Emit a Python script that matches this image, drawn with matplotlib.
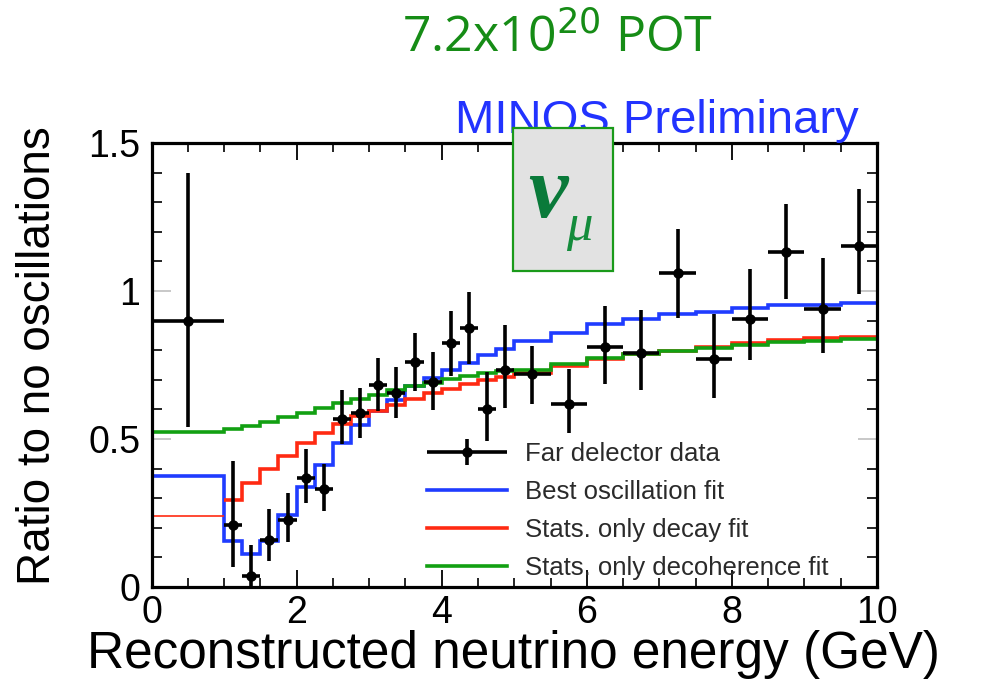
import numpy as np
import matplotlib
matplotlib.use("Agg")
import matplotlib.pyplot as plt
from matplotlib.patches import Rectangle
from matplotlib.ticker import MultipleLocator
from matplotlib.legend_handler import HandlerErrorbar

# Energy binning (GeV): one 1 GeV bin, 0.25 GeV bins up to 5 GeV, 0.5 GeV bins up to 10 GeV
bin_edges = [0.0, 1.0, 1.25, 1.5, 1.75, 2.0, 2.25, 2.5, 2.75, 3.0, 3.25, 3.5, 3.75,
             4.0, 4.25, 4.5, 4.75, 5.0, 5.5, 6.0, 6.5, 7.0, 7.5, 8.0, 8.5, 9.0, 9.5, 10.0]

# Far detector data / no-oscillation prediction
data_ratio = [0.90, 0.209, 0.037, 0.158, 0.226, 0.367, 0.330, 0.567, 0.588, 0.681,
              0.655, 0.759, 0.693, 0.823, 0.874, 0.601, 0.732, 0.718, 0.618, 0.810,
              0.789, 1.062, 0.771, 0.907, 1.133, 0.938, 1.153]
data_err_up = [0.50, 0.218, 0.104, 0.104, 0.093, 0.099, 0.085, 0.100, 0.084, 0.091,
               0.089, 0.098, 0.102, 0.111, 0.124, 0.126, 0.152, 0.096, 0.119, 0.139,
               0.147, 0.147, 0.150, 0.169, 0.160, 0.172, 0.191]
data_err_dn = [0.36, 0.141, 0.037, 0.070, 0.073, 0.082, 0.072, 0.083, 0.083, 0.085,
               0.085, 0.098, 0.096, 0.111, 0.120, 0.109, 0.127, 0.100, 0.098, 0.123,
               0.125, 0.152, 0.132, 0.141, 0.161, 0.149, 0.164]

# Fit predictions per bin
best_osc_fit = [0.375, 0.156, 0.113, 0.156, 0.243, 0.339, 0.412, 0.486, 0.548, 0.593,
                0.633, 0.678, 0.706, 0.733, 0.756, 0.784, 0.804, 0.831, 0.859, 0.887,
                0.906, 0.921, 0.930, 0.944, 0.952, 0.953, 0.958]
decay_fit = [0.240, 0.294, 0.350, 0.398, 0.443, 0.486, 0.520, 0.552, 0.576, 0.596,
             0.616, 0.636, 0.654, 0.670, 0.685, 0.698, 0.710, 0.724, 0.748, 0.770,
             0.787, 0.798, 0.812, 0.823, 0.834, 0.840, 0.846]
decoherence_fit = [0.525, 0.533, 0.545, 0.559, 0.573, 0.588, 0.605, 0.622, 0.635, 0.650,
                   0.664, 0.678, 0.689, 0.701, 0.712, 0.722, 0.729, 0.734, 0.754, 0.772,
                   0.786, 0.796, 0.806, 0.816, 0.826, 0.832, 0.838]

legend_labels = ["Far delector data", "Best oscillation fit",
                 "Stats. only decay fit", "Stats. only decoherence fit"]

edges = np.array(bin_edges)
centers = 0.5 * (edges[:-1] + edges[1:])
half_w = 0.5 * np.diff(edges)

plt.rcParams["font.family"] = ["Liberation Sans", "DejaVu Sans"]

fig = plt.figure(figsize=(9.87, 6.80), dpi=100)
ax = fig.add_axes([0.1535, 0.1368, 0.7351, 0.6529])

blue = "#1f3cff"
red = "#ff2a12"
green = "#12a012"

h_blue = ax.stairs(best_osc_fit, edges, baseline=None, color=blue, lw=2.6, zorder=2)
ax.stairs(decay_fit[:1], edges[:2], baseline=None, color=red, lw=1.2, zorder=2)
h_red = ax.stairs(decay_fit[1:], edges[1:], baseline=None, color=red, lw=2.6, zorder=2)
h_green = ax.stairs(decoherence_fit, edges, baseline=None, color=green, lw=2.6, zorder=2)

h_data = ax.errorbar(centers, data_ratio, xerr=half_w,
                     yerr=[data_err_dn, data_err_up], fmt="o", color="black",
                     ms=6.5, elinewidth=2.6, capsize=0, zorder=4)

ax.set_xlim(0, 10)
ax.set_ylim(0, 1.5)
ax.xaxis.set_minor_locator(MultipleLocator(0.5))
ax.yaxis.set_minor_locator(MultipleLocator(0.1))
ax.set_xticks([0, 2, 4, 6, 8, 10], ["0", "2", "4", "6", "8", "10"])
ax.set_yticks([0, 0.5, 1.0, 1.5], ["0", "0.5", "1", "1.5"])

ax.tick_params(which="both", direction="in", top=True, right=True, labelsize=27)
ax.tick_params(axis="x", which="major", length=12, width=1.3, pad=6)
ax.tick_params(axis="x", which="minor", length=6.5, width=1.2)
ax.tick_params(axis="y", which="major", length=14, width=1.3, color="#c4c4c4", pad=8)
ax.tick_params(axis="y", which="minor", length=7, width=1.2)
for s in ax.spines.values():
    s.set_linewidth(2.3)

fig.text(38 / 987, 1 - 356 / 680, "Ratio to no oscillations", rotation=90,
         ha="center", va="center", fontsize=33)
fig.text(513 / 987, 1 - 668 / 680, "Reconstructed neutrino energy (GeV)",
         ha="center", va="baseline", fontsize=37)

fig.text(455 / 987, 1 - 133 / 680, "MINOS Preliminary", color="#2233ff",
         fontsize=34, ha="left", va="baseline")
fig.text(402 / 987, 1 - 52 / 680, r"7.2x10$^{20}$ POT", color="#168c16",
         fontsize=36, ha="left", va="baseline", family=["Open Sans", "DejaVu Sans"])

# Neutrino flavour label box
fig.add_artist(Rectangle((513 / 987, 1 - 271 / 680), 100 / 987, 143 / 680,
                         transform=fig.transFigure, facecolor="#e2e2e2",
                         edgecolor="#1a9a1a", lw=1.6, zorder=5))
fig.text(528 / 987, 1 - 217 / 680, "\u03bd", color="#0a7a3a", fontsize=64,
         fontweight="bold", fontstyle="italic", family=["Liberation Serif"],
         ha="left", va="baseline", zorder=6)
fig.text(566 / 987, 1 - 240 / 680, "\u03bc", color="#148c3c", fontsize=38,
         fontstyle="italic", family=["Liberation Serif"],
         ha="left", va="baseline", zorder=6)

leg_fs = 18.5
leg_len = 3.1
leg = ax.legend([h_data, h_blue, h_red, h_green], legend_labels,
                loc="upper left", bbox_to_anchor=(427 / 987, 1 - 442 / 680),
                bbox_transform=fig.transFigure, frameon=False, fontsize=leg_fs,
                handlelength=leg_len, handletextpad=0.7, labelspacing=0.55,
                borderpad=0, borderaxespad=0,
                handler_map={type(h_data): HandlerErrorbar(xerr_size=leg_len / 2,
                                                           yerr_size=0.5)})
for t in leg.get_texts():
    t.set_color("#2a2a2a")

fig.savefig("out.png", dpi=100)
